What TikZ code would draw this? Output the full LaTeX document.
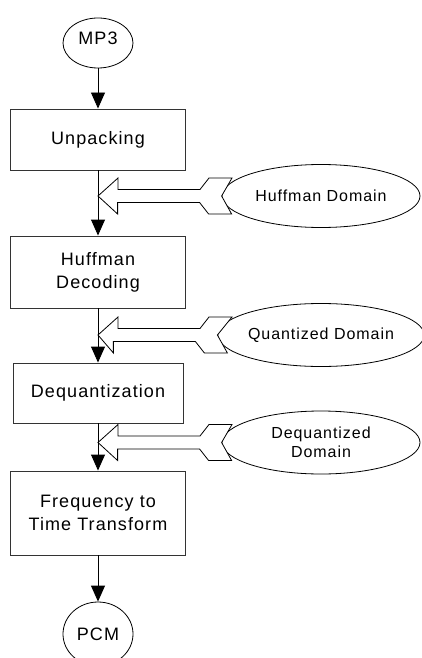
\documentclass[tikz,border=0pt]{standalone}
\usepackage{fontspec}
\setmainfont{Liberation Sans}
\newfontfamily\labelfont[LetterSpace=6]{Liberation Sans}
\usetikzlibrary{arrows.meta,shapes.geometric}

\begin{document}
\begin{tikzpicture}[x=1pt,y=-1pt,
  stage/.style={draw=black!80, line width=0.9pt, fill=white, inner sep=0pt,
    minimum width=175pt, align=center, font=\labelfont\fontsize{18}{23}\selectfont},
  terminal/.style={ellipse, draw, line width=0.8pt, fill=white, inner sep=0pt,
    minimum width=70pt, minimum height=50pt, font=\labelfont\fontsize{18}{22}\selectfont},
  domainoval/.style={ellipse, draw, line width=0.8pt, fill=white, inner sep=0pt,
    minimum width=198pt, minimum height=63pt, align=center,
    font=\labelfont\fontsize{16}{19}\selectfont},
  flow/.style={draw, line width=0.9pt, -{Triangle[length=16pt,width=14pt]}},
  blockarrow/.style={draw, line width=0.8pt, fill=white, line join=miter},
]
\useasboundingbox (0,0) rectangle (422,658);
\clip (0,0) rectangle (422,658);

% decoder stages
\node[terminal, text depth=9pt] (mp3) at (98,43) {MP3};
\node[stage, minimum height=61pt] (unp) at (98,139.5) {Unpacking};
\node[stage, minimum height=72pt] (hd)  at (98,272) {Huffman\\Decoding};
\node[stage, minimum width=170pt, minimum height=60pt] (deq) at (98,393) {Dequantization};
\node[stage, minimum height=84pt] (ftt) at (98,513) {Frequency to\\Time Transform};
\node[terminal, minimum height=64pt] (pcm) at (98,634) {PCM};

% data domains between the stages
\node[domainoval] (hdom) at (321,196) {Huffman Domain};
\node[domainoval] (qdom) at (321,335) {Quantized Domain};
\node[domainoval] (ddom) at (321,442.5) {Dequantized\\Domain};

\coordinate (t1) at (98,196);
\coordinate (t2) at (98,335);
\coordinate (t3) at (98,442.5);

% hollow block arrows from each domain to the signal path
\foreach \t/\e in {t1/hdom, t2/qdom, t3/ddom}
  \draw[blockarrow] (\t) -- ++(20,-18) -- ++(0,11.5) -- ++(82,0) -- ++(9,-11.5)
    -- ++(23,0) -- (\e.west) -- ++(10,18) -- ++(-23,0) -- ++(-9,-11.5)
    -- ++(-82,0) -- ++(0,11.5) -- cycle;

% signal path
\draw[flow] (mp3) -- (unp);
\draw[flow] (unp) -- (hd);
\draw[flow] (hd) -- (deq);
\draw[flow] (deq) -- (ftt);
\draw[flow] (ftt) -- (pcm);
\end{tikzpicture}
\end{document}
